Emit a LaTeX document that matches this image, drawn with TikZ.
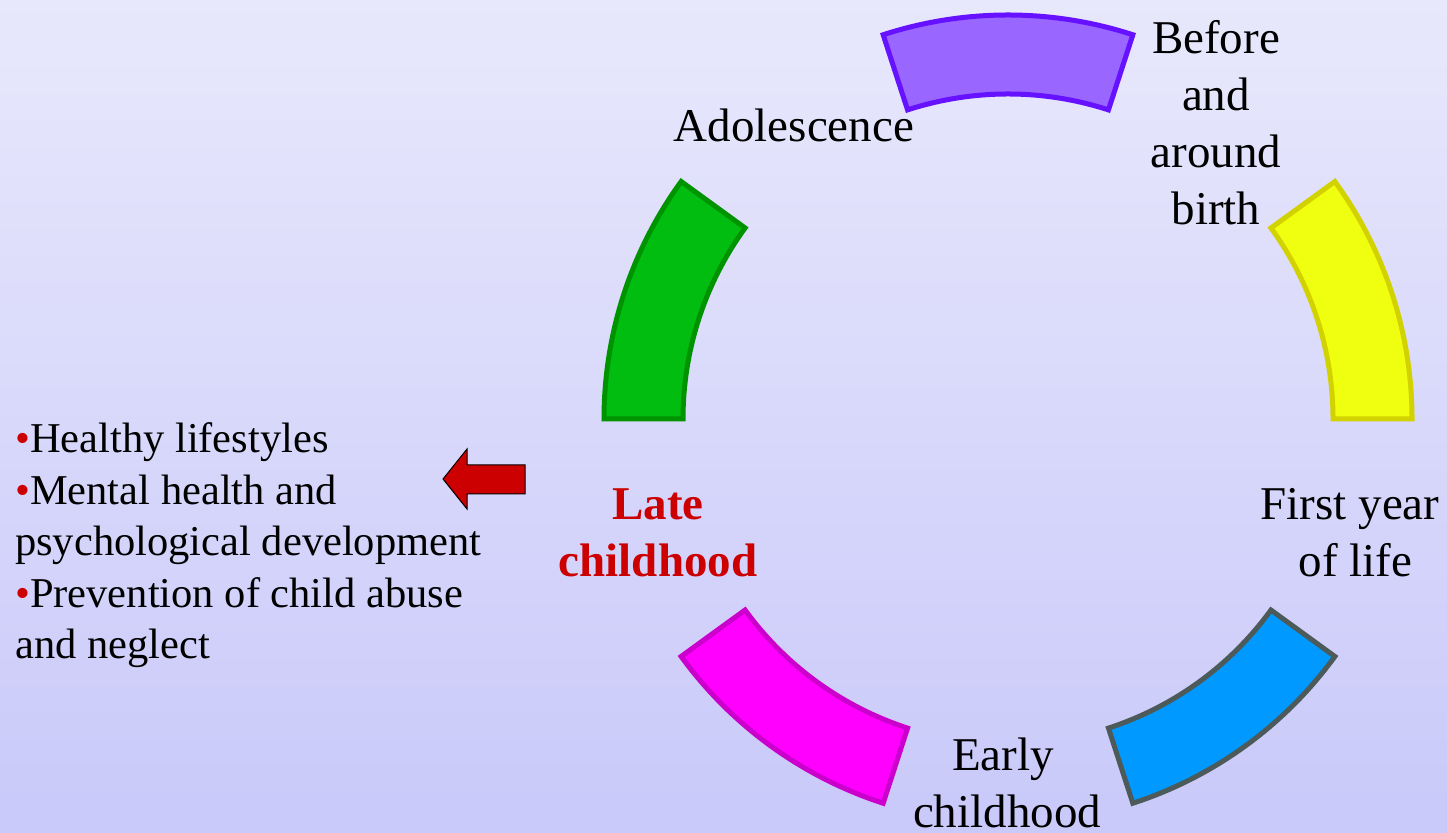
\documentclass[tikz,border=0pt]{standalone}
\usepackage{fontspec}
\setmainfont{Liberation Serif}
\usetikzlibrary{calc}
\definecolor{bgtop}{HTML}{E8E8FC}
\definecolor{bgbot}{HTML}{C9C9FA}
\definecolor{purplef}{HTML}{9966FF}\definecolor{purpled}{HTML}{6611FF}
\definecolor{yellowf}{HTML}{F0FF10}\definecolor{yellowd}{HTML}{D2D200}
\definecolor{bluef}{HTML}{0099FF}\definecolor{blued}{HTML}{4D5A5A}
\definecolor{magf}{HTML}{FF00FF}\definecolor{magd}{HTML}{CC00CC}
\definecolor{greenf}{HTML}{00BD10}\definecolor{greend}{HTML}{009300}
\definecolor{darkred}{HTML}{CC0000}
\newcommand\ringseg[4]{%
  \filldraw[seg, fill=#3, draw=#4] ($(C)+(#1:404)$) arc[start angle=#1,end angle=#2,radius=404]
    -- ($(C)+(#2:325)$) arc[start angle=#2,end angle=#1,radius=325] -- cycle;}
\begin{document}
\begin{tikzpicture}[x=1pt,y=1pt,
  seg/.style={line width=5pt,line join=miter},
  lbl/.style={inner sep=0pt,align=center,font=\fontsize{47}{57}\selectfont},
  lst/.style={inner sep=0pt,align=left,font=\fontsize{42.5}{51.5}\selectfont}]
\shade[top color=bgtop,bottom color=bgbot] (0,0) rectangle (1447,832);
\useasboundingbox (0,0) rectangle (1447,832);
\coordinate (C) at (1008,413);
\ringseg{0}{36}{yellowf}{yellowd}
\ringseg{72}{108}{purplef}{purpled}
\ringseg{144}{180}{greenf}{greend}
\ringseg{216}{252}{magf}{magd}
\ringseg{288}{324}{bluef}{blued}
\node[lbl,anchor=base] (before) at (1216,607) {Before\\and\\around\\birth};
\node[lbl,anchor=base] (adol) at (794,690) {Adolescence};
\node[lbl,anchor=base] (first) at (1350,255) {First year\\\hspace*{11pt}of life};
\node[lbl,anchor=base] (early) at (1007,5) {Early\hspace*{8pt}\\childhood};
\node[lbl,anchor=base,text=darkred,font=\fontsize{47}{57}\selectfont\bfseries] (late) at (658,255) {Late\\childhood};
\node[lst,anchor=base west] (list) at (15,173) {{\color{darkred}•}Healthy lifestyles\\{\color{darkred}•}Mental health and\\psychological development\\{\color{darkred}•}Prevention of child abuse\\and neglect};
\filldraw[fill=darkred,draw=black,line width=1pt] (443,353) -- (467,383) -- (467,367) -- (525,367) -- (525,338) -- (467,338) -- (467,323) -- cycle;
\end{tikzpicture}
\end{document}
